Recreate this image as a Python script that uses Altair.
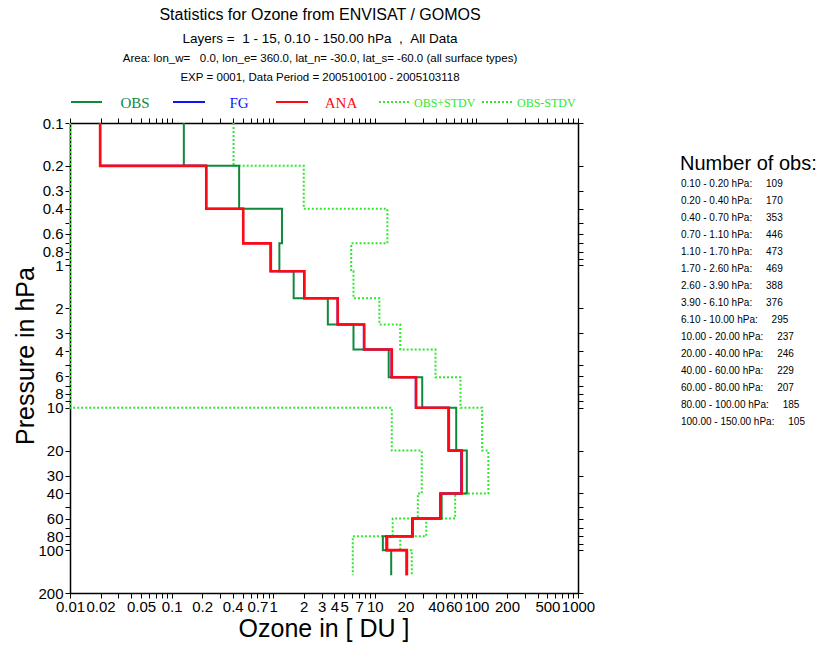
import json
import altair as alt
import pandas as pd

# ---- data -------------------------------------------------------------
layer_bounds = [0.1, 0.2, 0.4, 0.7, 1.1, 1.7, 2.6, 3.9, 6.1, 10, 20, 40, 60, 80, 100, 150]

obs = [0.132, 0.462, 1.22, 1.15, 1.59, 3.45, 6.17, 13.7, 29.3, 63.3, 80.5, 45.5, 23.3, 12.0, 14.5]
fg = [0.0198, 0.218, 0.505, 0.94, 2.01, 4.30, 7.80, 14.6, 25.3, 53.0, 70.8, 44.0, 23.4, 13.0, 20.5]
ana = [0.0198, 0.220, 0.507, 0.947, 2.03, 4.32, 7.87, 14.7, 25.5, 53.5, 71.8, 44.3, 23.6, 13.2, 20.7]
obs_plus_stdv = [0.407, 2.0, 13.3, 5.86, 6.17, 11.1, 17.8, 39.6, 69.7, 114, 131, 61.8, 32.1, 17.8, 23.1]
# values below the axis minimum sit on the left frame
obs_minus_stdv = [0.01, 0.01, 0.01, 0.01, 0.01, 0.01, 0.01, 0.01, 0.01, 14.7, 29.0, 26.5, 15.0, 6.07, 6.07]

n_obs = [109, 170, 353, 446, 473, 469, 388, 376, 295, 237, 246, 229, 207, 185, 105]

x_tick_values = [round(m * 10 ** e, 6) for e in range(-2, 3) for m in range(1, 10)] + [1000]
x_label_values = [0.01, 0.02, 0.05, 0.1, 0.2, 0.4, 0.7, 1, 2, 3, 4, 5, 7, 10, 20, 40, 60, 100, 200, 500, 1000]
y_tick_values = [round(m * 10 ** e, 6) for e in range(-1, 2) for m in range(1, 10)] + [100, 200]
y_label_values = [0.1, 0.2, 0.3, 0.4, 0.6, 0.8, 1, 2, 3, 4, 6, 8, 10, 20, 30, 40, 60, 80, 100, 200]

title_lines = [
    "Statistics for Ozone from ENVISAT / GOMOS",
    "Layers =  1 - 15, 0.10 - 150.00 hPa  ,  All Data",
    "Area: lon_w=   0.0, lon_e= 360.0, lat_n= -30.0, lat_s= -60.0 (all surface types)",
    "EXP = 0001, Data Period = 2005100100 - 2005103118",
]

# ---- styling ----------------------------------------------------------
W, H = 508, 470
SANS = "Liberation Sans"
SERIF = "Liberation Serif"
C_OBS = "#0f8a3c"
C_FG = "#1010ff"
C_ANA = "#ff0a14"
C_STD = "#2ee82e"


def nb(s):
    return s.replace(" ", "\u00a0")


def step_table(name, values):
    rows = []
    k = 0
    for i, v in enumerate(values):
        for p in (layer_bounds[i], layer_bounds[i + 1]):
            rows.append({"series": name, "ozone": v, "pressure": p, "order": k})
            k += 1
    return pd.DataFrame(rows)


x_scale = alt.Scale(type="log", domain=[0.01, 1000], nice=False)
y_scale = alt.Scale(type="log", domain=[0.1, 200], reverse=True, nice=False)

common_axis = dict(grid=False, tickSize=5, tickColor="black", tickWidth=1,
                   domainColor="black", domainWidth=1.5)
x_label_expr = f"indexof({json.dumps(x_label_values)}, datum.value) >= 0 ? format(datum.value, '~g') : ''"
y_label_expr = f"indexof({json.dumps(y_label_values)}, datum.value) >= 0 ? format(datum.value, '~g') : ''"

ax_bottom = alt.Axis(orient="bottom", values=x_tick_values, labelExpr=x_label_expr,
                     labelFont=SANS, labelFontSize=15, labelColor="black",
                     labelOverlap=False, labelFlush=False, labelPadding=1,
                     title=None, **common_axis)
ax_top = alt.Axis(orient="top", values=x_tick_values, labels=False, title=None, **common_axis)
ax_left = alt.Axis(orient="left", values=y_tick_values, labelExpr=y_label_expr,
                   labelFont=SANS, labelFontSize=15, labelColor="black",
                   labelOverlap=False, labelFlush=False, labelPadding=2,
                   title=None, **common_axis)
ax_right = alt.Axis(orient="right", values=y_tick_values, labels=False, title=None, **common_axis)


def profile(name, values, color, width, dash=None, xaxis=None, yaxis=None):
    mark_kw = dict(color=color, strokeWidth=width, interpolate="linear")
    if dash:
        mark_kw["strokeDash"] = dash
    return alt.Chart(step_table(name, values)).mark_line(**mark_kw).encode(
        x=alt.X("ozone:Q", scale=x_scale, axis=xaxis),
        y=alt.Y("pressure:Q", scale=y_scale, axis=yaxis),
        order="order:Q",
    )


one = pd.DataFrame({"k": [0]})


def label(text, x, y, size, font=SANS, color="black", align="center", angle=0, baseline="alphabetic"):
    kw = dict(text=text, font=font, fontSize=size, color=color, align=align, baseline=baseline)
    if angle:
        kw["angle"] = angle
    return alt.Chart(one).mark_text(**kw).encode(x=alt.value(x), y=alt.value(y))


def legend_line(x1, x2, y, color, dash=None):
    kw = dict(color=color, strokeWidth=2)
    if dash:
        kw["strokeDash"] = dash
    return alt.Chart(one).mark_rule(**kw).encode(x=alt.value(x1), x2=alt.value(x2), y=alt.value(y))


layers = [
    profile("OBS-STDV", obs_minus_stdv, C_STD, 2, [2, 2], ax_bottom, ax_left),
    profile("OBS+STDV", obs_plus_stdv, C_STD, 2, [2, 2], ax_top, ax_right),
    profile("OBS", obs, C_OBS, 2),
    profile("FG", fg, C_FG, 2),
    profile("ANA", ana, C_ANA, 2.6),
]

# titles above the plot
cx = 250
layers += [
    label(title_lines[0], cx, -103, 16),
    label(nb(title_lines[1]), cx, -80, 13.5),
    label(nb(title_lines[2]), cx, -61, 11.5),
    label(nb(title_lines[3]), cx, -42, 11.5),
]

# legend row
leg_y = -21
layers += [
    legend_line(1, 32, leg_y, C_OBS),
    label("OBS", 65, -15, 15, font=SERIF, color=C_OBS),
    legend_line(103, 135, leg_y, C_FG),
    label("FG", 169, -15, 15, font=SERIF, color=C_FG),
    legend_line(206, 238, leg_y, C_ANA),
    label("ANA", 271, -15, 15, font=SERIF, color=C_ANA),
    legend_line(309, 340, leg_y, C_STD, [2, 2]),
    label("OBS+STDV", 344, -16, 12, font=SERIF, color=C_STD, align="left"),
    legend_line(412, 442, leg_y, C_STD, [2, 2]),
    label("OBS-STDV", 447, -16, 12, font=SERIF, color=C_STD, align="left"),
]

# axis titles
layers += [
    label("Ozone in [ DU ]", 254, 514, 25),
    label("Pressure in hPa", -44, 233, 25, angle=270, baseline="middle"),
]

# number of observations per layer
obs_lines = [
    nb(f"{layer_bounds[i]:.2f} - {layer_bounds[i + 1]:.2f} hPa:     {n}")
    for i, n in enumerate(n_obs)
]
layers += [
    label("Number of obs:", 610, 47, 20, align="left"),
    alt.Chart(one).mark_text(text=obs_lines, font=SANS, fontSize=10, lineHeight=17,
                             align="left", baseline="alphabetic", color="black")
    .encode(x=alt.value(611), y=alt.value(64)),
]

chart = (
    alt.layer(*layers)
    .resolve_axis(x="independent", y="independent")
    .properties(
        width=W,
        height=H,
        autosize=alt.AutoSizeParams(type="none"),
        padding={"left": 70, "top": 123, "right": 246, "bottom": 52},
        background="white",
    )
    .configure_view(strokeWidth=0)
)

chart.save("out.html", embed_options={"renderer": "svg", "actions": False})
